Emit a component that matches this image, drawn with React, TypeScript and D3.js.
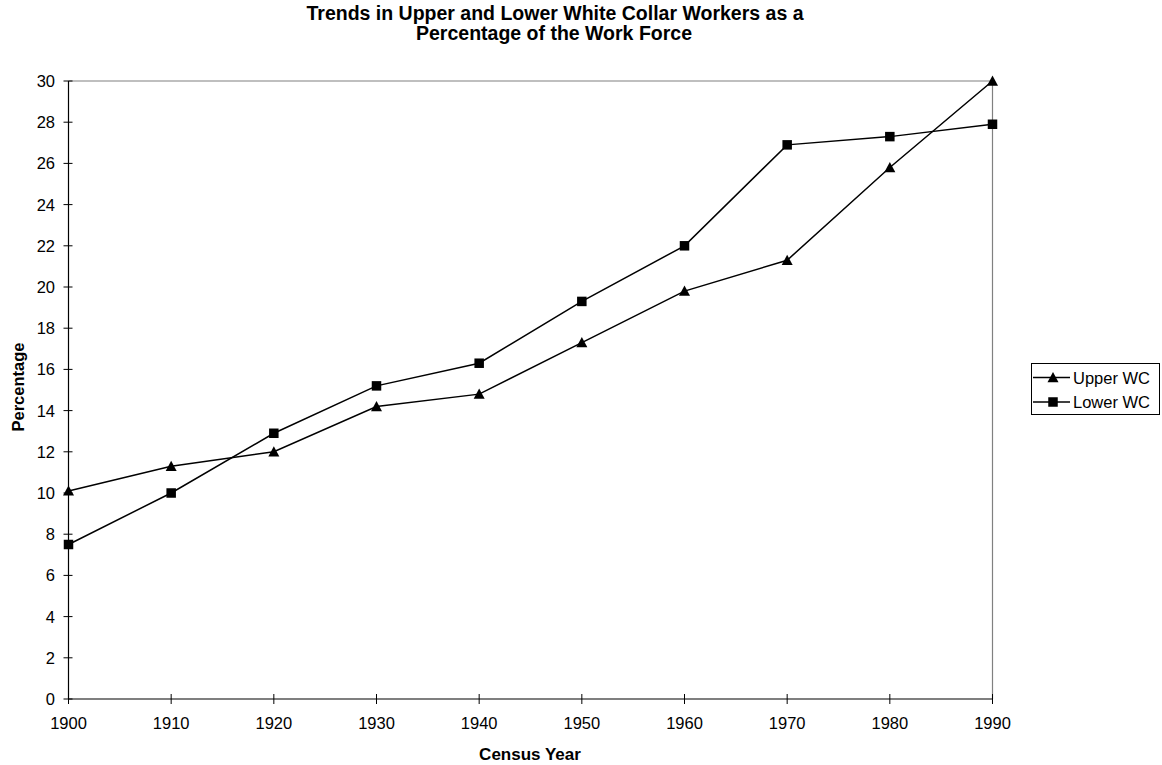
import React from "react";
import * as d3 from "d3";

const years = [1900, 1910, 1920, 1930, 1940, 1950, 1960, 1970, 1980, 1990];
const upperWC = [10.1, 11.3, 12.0, 14.2, 14.8, 17.3, 19.8, 21.3, 25.8, 30.0];
const lowerWC = [7.5, 10.0, 12.9, 15.2, 16.3, 19.3, 22.0, 26.9, 27.3, 27.9];
const yTicks = [0, 2, 4, 6, 8, 10, 12, 14, 16, 18, 20, 22, 24, 26, 28, 30];
const seriesNames = ["Upper WC", "Lower WC"];

const W = 1162, H = 765;
const L = 68.5, R = 992.5, T = 81, B = 699;
const FONT = "'Liberation Sans', Arial, sans-serif";

function Triangle({ x, y }: { x: number; y: number }) {
  const s = 5.5;
  return <path d={`M${x},${y - s}L${x + s},${y + s * 0.85}L${x - s},${y + s * 0.85}Z`} fill="#000" />;
}
function Square({ x, y }: { x: number; y: number }) {
  const s = 4.75;
  return <rect x={x - s} y={y - s} width={2 * s} height={2 * s} fill="#000" />;
}

export default function App() {
  const x = d3.scaleLinear().domain([1900, 1990]).range([L, R]);
  const y = d3.scaleLinear().domain([0, 30]).range([B, T]);
  const line = d3.line<number>().x((_, i) => x(years[i])).y((d) => y(d));

  return (
    <svg width={W} height={H} style={{ position: "absolute", left: 0, top: 0, background: "#fff" }} fontFamily={FONT}>
      <text x={555} y={20} textAnchor="middle" fontWeight="bold" fontSize={19.5}>
        Trends in Upper and Lower White Collar Workers as a
      </text>
      <text x={554} y={40} textAnchor="middle" fontWeight="bold" fontSize={19.5}>
        Percentage of the Work Force
      </text>
      {/* plot border */}
      <line x1={L} y1={T} x2={R} y2={T} stroke="#808080" strokeWidth={1.2} />
      <line x1={R} y1={T} x2={R} y2={B} stroke="#808080" strokeWidth={1.2} />
      {/* axes */}
      <line x1={L} y1={T} x2={L} y2={B} stroke="#000" strokeWidth={1.2} />
      <line x1={L} y1={B} x2={R} y2={B} stroke="#000" strokeWidth={1.2} />
      {yTicks.map((t) => (
        <g key={t}>
          <line x1={L - 5} x2={L + 4} y1={y(t)} y2={y(t)} stroke="#000" strokeWidth={1} />
          <text x={55} y={y(t) + 6} textAnchor="end" fontSize={16.5}>{t}</text>
        </g>
      ))}
      {years.map((yr) => (
        <g key={yr}>
          <line x1={x(yr)} x2={x(yr)} y1={B - 5} y2={B + 5} stroke="#000" strokeWidth={1} />
          <text x={x(yr)} y={729} textAnchor="middle" fontSize={16.5}>{yr}</text>
        </g>
      ))}
      <text x={530} y={760} textAnchor="middle" fontWeight="bold" fontSize={17}>Census Year</text>
      <text transform={`translate(24,${(T + B) / 2 - 3}) rotate(-90)`} textAnchor="middle" fontWeight="bold" fontSize={16.5}>
        Percentage
      </text>
      <path d={line(upperWC) || ""} fill="none" stroke="#000" strokeWidth={1.5} />
      <path d={line(lowerWC) || ""} fill="none" stroke="#000" strokeWidth={1.5} />
      {upperWC.map((v, i) => <Triangle key={"u" + i} x={x(years[i])} y={y(v)} />)}
      {lowerWC.map((v, i) => <Square key={"l" + i} x={x(years[i])} y={y(v)} />)}
      {/* legend */}
      <rect x={1031.5} y={363.5} width={128} height={51} fill="#fff" stroke="#000" strokeWidth={1} />
      {seriesNames.map((n, i) => {
        const cy = 377.5 + i * 24.5;
        return (
          <g key={n}>
            <line x1={1033} x2={1070} y1={cy} y2={cy} stroke="#000" strokeWidth={1.5} />
            {i === 0 ? <Triangle x={1053} y={cy} /> : <Square x={1053} y={cy} />}
            <text x={1073} y={cy + 6} fontSize={16.5}>{n}</text>
          </g>
        );
      })}
    </svg>
  );
}
